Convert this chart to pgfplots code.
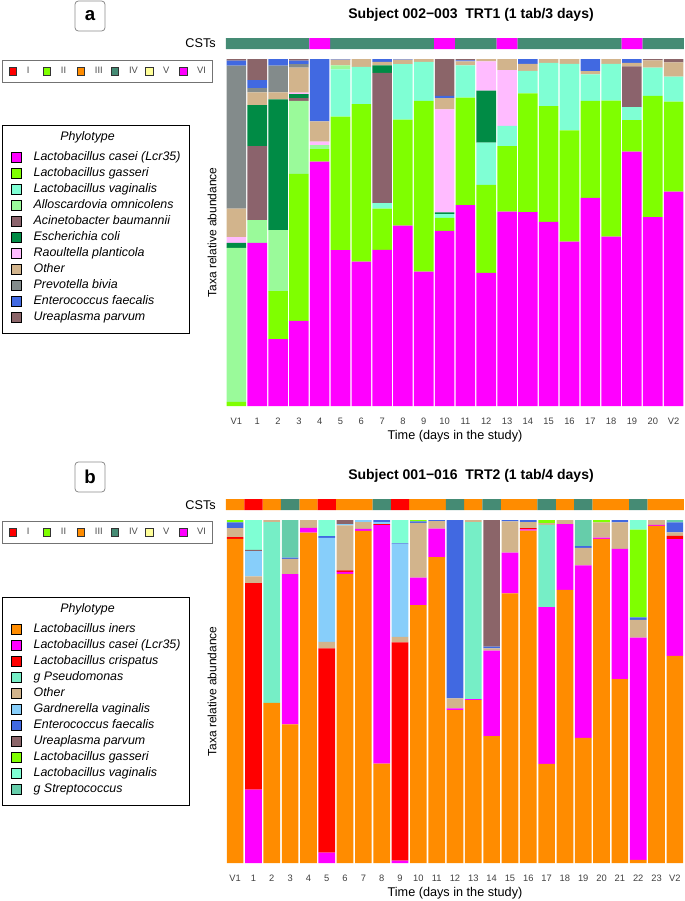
\documentclass[border=0pt]{standalone}
\usepackage{pgfplots}
\pgfplotsset{compat=1.18}
\usepackage{pgfplotstable}
\usepackage{fontspec}
\setmainfont{Liberation Sans}

% taxa colours
\definecolor{casei}{HTML}{FF00FF}
\definecolor{gass}{HTML}{7FFF00}
\definecolor{vag}{HTML}{7FFFD4}
\definecolor{allo}{HTML}{9AFA9A}
\definecolor{acin}{HTML}{8B636C}
\definecolor{ecoli}{HTML}{008B45}
\definecolor{raoul}{HTML}{FFBBFF}
\definecolor{other}{HTML}{D2B48C}
\definecolor{prev}{HTML}{838B8B}
\definecolor{entero}{HTML}{4169E1}
\definecolor{urea}{HTML}{8B6569}
\definecolor{iners}{HTML}{FF8C00}
\definecolor{crisp}{HTML}{FF0000}
\definecolor{pseudo}{HTML}{76EEC6}
\definecolor{gard}{HTML}{87CEFA}
\definecolor{strep}{HTML}{66CDAA}
% CST colours
\definecolor{cstI}{HTML}{FF0000}
\definecolor{cstII}{HTML}{7FFF00}
\definecolor{cstIII}{HTML}{FF8C00}
\definecolor{cstIV}{HTML}{458B74}
\definecolor{cstV}{HTML}{FFFF99}
\definecolor{cstVI}{HTML}{FF00FF}

% panel a: subject 002-003 (percent per sample)
\pgfplotstableread{
x casei gass vag allo acin ecoli raoul other prev entero urea
0 0 1.2 0 44.4 0 1.4 1.7 8.2 41.2 1.4 0.5
1 47 0 0 6.6 21.3 11.8 0 3.7 1.2 2.3 6.1
2 19.3 13.8 0 17.6 0 37.7 0 2 7.7 1.9 0
3 24.5 42.4 0 21 0.8 1.2 0.4 7.2 1 1 0.5
4 70.4 3.6 0 1.2 0 0 1 5.8 0 18 0
5 44.9 38.5 13.6 1.2 0 0 0 1.6 0 0.2 0
6 41.6 45.4 10.7 0 0 0 0 2.3 0 0 0
7 45 11.9 1.6 0 37.5 2.2 0 1 0 0.8 0
8 52 30.5 16 0 0 0 0 1.3 0 0.2 0
9 38.7 49.2 11.3 0 0 0 0 0.8 0 0 0
10 50.5 3.7 1.1 0 0 0.5 29.7 3.2 0 0.7 10.6
11 57.9 31 9.3 0 0 0 0 1.1 0 0.3 0.4
12 38.4 25.3 12.2 0 0 15 8.4 0.7 0 0 0
13 56 18.9 5.8 0 0 0 16.1 3.2 0 0 0
14 55.9 34.2 6.5 0 0 0 0 2 0 1.4 0
15 53.1 33.3 12.5 0 0 0 0 1.1 0 0 0
16 47.4 32 19.2 0 0 0 0 1.4 0 0 0
17 60 27.9 7.7 0 0 0 0 0.9 0 3.5 0
18 48.8 39.2 10.6 0 0 0 0 1.4 0 0 0
19 73.3 9.1 3.7 0 11.8 0 0 1 0 1.1 0
20 54.4 35 8.1 0 0 0 0 2.1 0 0 0.4
21 61.8 25.9 7.2 0 0 0 0 4.1 0 0 1
}\tabA

% panel b: subject 001-016
\pgfplotstableread{
x iners casei crisp pseudo other gard entero urea gass vag strep
0 94.5 0 0.5 0 2.6 0 1.7 0 0.7 0 0
1 0 21.4 60.2 0 2 7.3 0 0.4 0 8.7 0
2 46.7 0 0 52.7 0.6 0 0 0 0 0 0
3 40.4 43.8 0 0 4.5 0 0.3 0 0 0 11
4 96.3 1.4 0 0 2.3 0 0 0 0 0 0
5 0 3 59.6 0 1.9 30.3 0.5 0 0 4.7 0
6 84.3 0.6 0.4 0 13.1 0.4 0 1.2 0 0 0
7 96.8 0.6 0 0 2 0.6 0 0 0 0 0
8 29 69.5 0.3 0 0 0.6 0.6 0 0 0 0
9 0 0.7 63.6 0 1.6 27.1 0.2 0 0 6.8 0
10 75.2 8 0 0 16 0 0.4 0 0.4 0 0
11 89.2 8.3 0 0 2.2 0 0.3 0 0 0 0
12 44.6 0.5 0 0 2.9 0 52 0 0 0 0
13 47.5 0.3 0 51.6 0.6 0 0 0 0 0 0
14 37 24.9 0 0 0.7 0 0.5 36.9 0 0 0
15 78.6 11.9 0 0 9.1 0 0.4 0 0 0 0
16 96.9 0.4 0.3 0 1.8 0 0.6 0 0 0 0
17 28.9 45.7 0 24 0.5 0 0 0 0.9 0 0
18 79.6 19.2 0 0 1.2 0 0 0 0 0 0
19 36.5 50.3 0 0 5.1 0 0.5 0 0 0 7.6
20 94.5 0.4 0 0 4.4 0 0 0 0.7 0 0
21 53.6 38 0 0 7.7 0 0.7 0 0 0 0
22 0.9 64.8 0 0 5.2 0 0.7 0 25.6 2.8 0
23 98.3 0.3 0 0 1.4 0 0 0 0 0 0
24 60.4 34 1 0 1 0 2.9 0 0 0 0.7
}\tabB

\pgfplotsset{
  sqleg/.style={legend image code/.code={\draw[##1,draw=black,line width=0.6pt] (0pt,-3.6pt) rectangle (7.2pt,3.6pt);}},
  cstimg/.style={legend image code/.code={\draw[##1,draw=black!80,line width=0.45pt] (0pt,-2.7pt) rectangle (5.4pt,2.7pt);}},
  mainax/.style={
    scale only axis, width=343.5pt, anchor=south west,
    ybar stacked, ymin=0, ymax=100,
    every axis plot/.append style={sqleg, draw=none},
    axis line style={draw=none}, major tick length=0pt, ytick=\empty,
    tick label style={/pgf/number format/assume math mode=true},
    xticklabel style={font=\fontsize{7}{8}\selectfont, text=black!75, yshift=-5.5pt},
    xlabel={Time (days in the study)}, ylabel={Taxa relative abundance},
    xlabel style={font=\fontsize{9.5}{11}\selectfont, at={(axis description cs:0.5,0)}, anchor=center, yshift=-22.5pt},
    ylabel style={font=\fontsize{9}{10}\selectfont, at={(axis description cs:0,0.5)}, anchor=center, yshift=10.5pt},
    legend cell align=left,
    legend style={anchor=north west, draw=black, line width=0.9pt,
      font=\fontsize{9.3}{11}\selectfont\itshape,
      inner xsep=6.5pt, inner ysep=7pt, row sep=2pt,
      nodes={inner xsep=0pt, inner ysep=0.5pt, text height=7pt, text depth=2pt},
      /tikz/every odd column/.append style={column sep=9pt}},
  },
  stripax/.style={
    scale only axis, width=343.5pt, height=8.25pt, anchor=south west,
    ymin=0, ymax=1, hide axis, ybar, bar width=1, bar shift=0pt,
    every axis plot/.append style={draw=none, forget plot},
    legend columns=6, legend cell align=left,
    legend style={anchor=north west, draw=black!55, line width=0.6pt,
      font=\fontsize{7}{8}\selectfont, text=black!70,
      inner xsep=5pt, inner ysep=3pt,
      nodes={inner xsep=0pt},
      /tikz/every odd column/.append style={column sep=7.5pt}},
  },
}

\begin{document}
\begin{tikzpicture}
\useasboundingbox (0,0) rectangle (513.75pt,-675.75pt);

% ---------------- panel a ----------------
\begin{axis}[stripax, at={(169.5pt,-36.75pt)}, xmin=-0.5, xmax=21.5,
  legend style={at={(-0.4891,-1)}}]
\addplot[fill=cstIV] coordinates {(0,1)(1,1)(2,1)(3,1)(5,1)(6,1)(7,1)(8,1)(9,1)(11,1)(12,1)(14,1)(15,1)(16,1)(17,1)(18,1)(20,1)(21,1)};
\addplot[fill=cstVI] coordinates {(4,1)(10,1)(13,1)(19,1)};
\addlegendimage{cstimg,fill=cstI}
\addlegendimage{cstimg,fill=cstII}
\addlegendimage{cstimg,fill=cstIII}
\addlegendimage{cstimg,fill=cstIV}
\addlegendimage{cstimg,fill=cstV}
\addlegendimage{cstimg,fill=cstVI}
\legend{\makebox[12.2pt][l]{I},\makebox[12.2pt][l]{II},\makebox[12.2pt][l]{III},\makebox[12.2pt][l]{IV},\makebox[12.2pt][l]{V},VI}
\end{axis}

\begin{axis}[mainax, at={(169.5pt,-304.5pt)}, height=260.25pt,
  xmin=-0.5, xmax=21.5, bar width=0.94,
  xtick={0,...,21},
  xticklabels={V1,1,2,3,4,5,6,7,8,9,10,11,12,13,14,15,16,17,18,19,20,V2},
  legend style={at={(-0.4891,0.8098)}}]
\addlegendimage{empty legend}
\addplot[fill=casei] table[x=x,y=casei]{\tabA};
\addplot[fill=gass] table[x=x,y=gass]{\tabA};
\addplot[fill=vag] table[x=x,y=vag]{\tabA};
\addplot[fill=allo] table[x=x,y=allo]{\tabA};
\addplot[fill=acin] table[x=x,y=acin]{\tabA};
\addplot[fill=ecoli] table[x=x,y=ecoli]{\tabA};
\addplot[fill=raoul] table[x=x,y=raoul]{\tabA};
\addplot[fill=other] table[x=x,y=other]{\tabA};
\addplot[fill=prev] table[x=x,y=prev]{\tabA};
\addplot[fill=entero] table[x=x,y=entero]{\tabA};
\addplot[fill=urea] table[x=x,y=urea]{\tabA};
\legend{\hspace*{20pt}\raisebox{3pt}{Phylotype},Lactobacillus casei (Lcr35),Lactobacillus gasseri,Lactobacillus vaginalis,Alloscardovia omnicolens,Acinetobacter baumannii,Escherichia coli,Raoultella planticola,Other,Prevotella bivia,Enterococcus faecalis,Ureaplasma parvum}
\end{axis}

% ---------------- panel b ----------------
\begin{axis}[stripax, at={(169.5pt,-382.5pt)}, xmin=-0.5, xmax=24.5,
  legend style={at={(-0.4891,-1)}}]
\addplot[fill=cstIII] coordinates {(0,1)(2,1)(4,1)(6,1)(7,1)(10,1)(11,1)(13,1)(15,1)(16,1)(18,1)(20,1)(21,1)(23,1)(24,1)};
\addplot[fill=cstI] coordinates {(1,1)(5,1)(9,1)};
\addplot[fill=cstIV] coordinates {(3,1)(8,1)(12,1)(14,1)(17,1)(19,1)(22,1)};
\addlegendimage{cstimg,fill=cstI}
\addlegendimage{cstimg,fill=cstII}
\addlegendimage{cstimg,fill=cstIII}
\addlegendimage{cstimg,fill=cstIV}
\addlegendimage{cstimg,fill=cstV}
\addlegendimage{cstimg,fill=cstVI}
\legend{\makebox[12.2pt][l]{I},\makebox[12.2pt][l]{II},\makebox[12.2pt][l]{III},\makebox[12.2pt][l]{IV},\makebox[12.2pt][l]{V},VI}
\end{axis}

\begin{axis}[mainax, at={(169.5pt,-647.25pt)}, height=257.25pt,
  xmin=-0.5, xmax=24.5, bar width=0.91,
  xtick={0,...,24},
  xticklabels={V1,1,2,3,4,5,6,7,8,9,10,11,12,13,14,15,16,17,18,19,20,21,22,23,V2},
  legend style={at={(-0.4891,0.7755)}}]
\addlegendimage{empty legend}
\addplot[fill=iners] table[x=x,y=iners]{\tabB};
\addplot[fill=casei] table[x=x,y=casei]{\tabB};
\addplot[fill=crisp] table[x=x,y=crisp]{\tabB};
\addplot[fill=pseudo] table[x=x,y=pseudo]{\tabB};
\addplot[fill=other] table[x=x,y=other]{\tabB};
\addplot[fill=gard] table[x=x,y=gard]{\tabB};
\addplot[fill=entero] table[x=x,y=entero]{\tabB};
\addplot[fill=urea] table[x=x,y=urea]{\tabB};
\addplot[fill=gass] table[x=x,y=gass]{\tabB};
\addplot[fill=vag] table[x=x,y=vag]{\tabB};
\addplot[fill=strep] table[x=x,y=strep]{\tabB};
\legend{\hspace*{20pt}\raisebox{3pt}{Phylotype},Lactobacillus iners,Lactobacillus casei (Lcr35),Lactobacillus crispatus,g Pseudomonas,Other,Gardnerella vaginalis,Enterococcus faecalis,Ureaplasma parvum,Lactobacillus gasseri,Lactobacillus vaginalis,g Streptococcus}
\end{axis}

% titles, panel tags and strip labels
\begin{scope}[x=0.75pt,y=-0.75pt]
\node[font=\fontsize{10.5}{12}\selectfont\bfseries] at (471,15) {Subject 002−003\ \ TRT1 (1 tab/3 days)};
\node[font=\fontsize{10.5}{12}\selectfont\bfseries] at (471,476) {Subject 001−016\ \ TRT2 (1 tab/4 days)};
\node[font=\fontsize{9.5}{11}\selectfont, anchor=east, inner sep=0pt] at (216,43.5) {CSTs};
\node[font=\fontsize{9.5}{11}\selectfont, anchor=east, inner sep=0pt] at (216,505) {CSTs};
\draw[black!45, line width=0.6pt, rounded corners=2.5pt, fill=white] (75,1) rectangle (105,31);
\node[font=\fontsize{14}{16}\selectfont\bfseries] at (90,16) {a};
\draw[black!45, line width=0.6pt, rounded corners=2.5pt, fill=white] (75,462) rectangle (105,492);
\node[font=\fontsize{14}{16}\selectfont\bfseries] at (90,477) {b};
\end{scope}
\end{tikzpicture}
\end{document}
